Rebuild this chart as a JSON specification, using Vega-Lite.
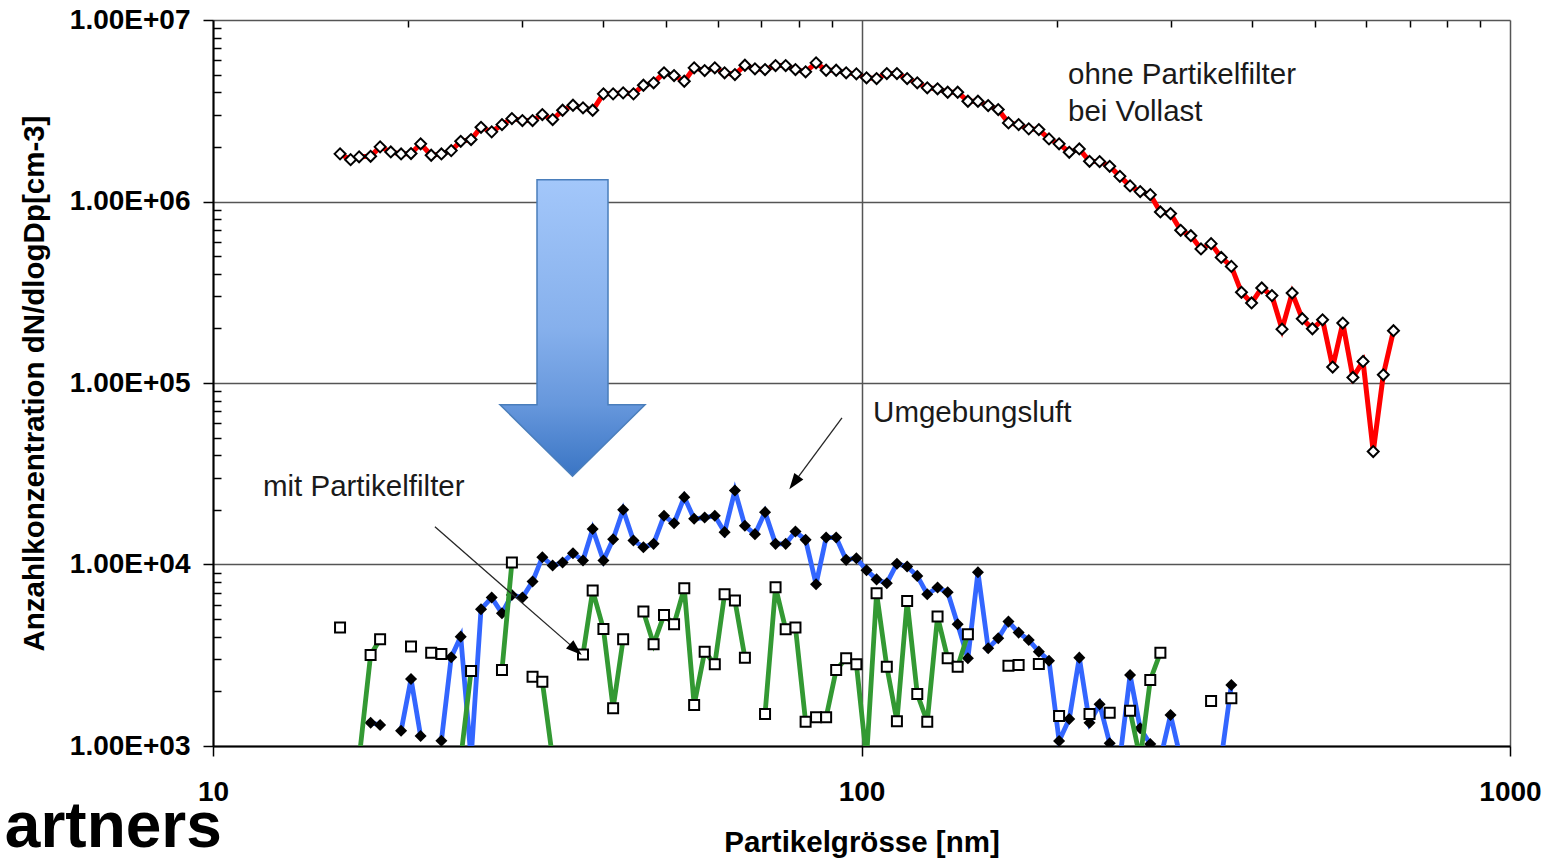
{
  "$schema": "https://vega.github.io/schema/vega-lite/v6.json",
  "width": 1297,
  "height": 726,
  "autosize": "none",
  "padding": {"left": 213, "top": 20, "right": 52, "bottom": 116},
  "background": "white",
  "config": {"view": {"stroke": null}, "font": "Liberation Sans"},
  "datasets": {
    "red": [
      {"x":15.7,"y":1830000},{"x":16.3,"y":1701000},{"x":16.8,"y":1762000},{"x":17.5,"y":1775000},{"x":18.1,"y":2000000},
      {"x":18.8,"y":1876000},{"x":19.5,"y":1829000},{"x":20.2,"y":1837000},{"x":20.9,"y":2078000},{"x":21.7,"y":1798000},
      {"x":22.5,"y":1829000},{"x":23.3,"y":1907000},{"x":24.1,"y":2147000},{"x":25.0,"y":2194000},{"x":25.9,"y":2564000},
      {"x":26.9,"y":2419000},{"x":27.9,"y":2653000},{"x":28.9,"y":2863000},{"x":30.0,"y":2792000},{"x":31.1,"y":2792000},
      {"x":32.2,"y":3013000},{"x":33.4,"y":2828000},{"x":34.6,"y":3182000},{"x":35.9,"y":3391000},{"x":37.2,"y":3281000},
      {"x":38.5,"y":3182000},{"x":40.0,"y":3918000},{"x":41.4,"y":3918000},{"x":42.9,"y":3968000},{"x":44.5,"y":3918000},
      {"x":46.1,"y":4370000},{"x":47.8,"y":4506000},{"x":49.6,"y":5116000},{"x":51.4,"y":4943000},{"x":53.3,"y":4598000},
      {"x":55.2,"y":5450000},{"x":57.3,"y":5266000},{"x":59.4,"y":5450000},{"x":61.5,"y":5116000},{"x":63.8,"y":5006000},
      {"x":66.1,"y":5633000},{"x":68.5,"y":5382000},{"x":71.0,"y":5334000},{"x":73.7,"y":5611000},{"x":76.4,"y":5611000},
      {"x":79.1,"y":5334000},{"x":82.0,"y":5180000},{"x":85.1,"y":5807000},{"x":88.2,"y":5287000},{"x":91.4,"y":5287000},
      {"x":94.7,"y":5116000},{"x":98.2,"y":5051000},{"x":101.8,"y":4801000},{"x":105.5,"y":4759000},{"x":109.4,"y":5070000},
      {"x":113.4,"y":5070000},{"x":117.6,"y":4759000},{"x":121.9,"y":4506000},{"x":126.3,"y":4229000},{"x":131.0,"y":4176000},
      {"x":135.8,"y":3999000},{"x":140.7,"y":3999000},{"x":145.9,"y":3568000},{"x":151.2,"y":3568000},{"x":156.8,"y":3378000},
      {"x":162.5,"y":3211000},{"x":168.5,"y":2711000},{"x":174.7,"y":2653000},{"x":181.1,"y":2513000},{"x":187.7,"y":2490000},
      {"x":194.6,"y":2213000},{"x":201.7,"y":2078000},{"x":209.1,"y":1867000},{"x":216.7,"y":1949000},{"x":224.7,"y":1665000},
      {"x":232.9,"y":1659000},{"x":241.4,"y":1563000},{"x":250.3,"y":1376000},{"x":259.5,"y":1219000},{"x":269.0,"y":1134000},
      {"x":278.8,"y":1091000},{"x":289.0,"y":876000},{"x":299.6,"y":858000},{"x":310.6,"y":694000},{"x":322.0,"y":648000},
      {"x":333.8,"y":548000},{"x":346.0,"y":586000},{"x":358.7,"y":492000},{"x":371.8,"y":439000},{"x":385.4,"y":316000},
      {"x":399.5,"y":276000},{"x":414.2,"y":334000},{"x":429.4,"y":303000},{"x":445.1,"y":198000},{"x":461.4,"y":313000},
      {"x":478.3,"y":226000},{"x":495.8,"y":199000},{"x":514.0,"y":223000},{"x":532.8,"y":122400},{"x":552.3,"y":214000},
      {"x":572.5,"y":107300},{"x":593.5,"y":131500},{"x":615.3,"y":41900},{"x":637.8,"y":111000},{"x":661.2,"y":194200}
    ],
    "blue": [
      {"x":17.5,"y":1344},{"x":18.1,"y":1305},{"x":18.8,"y":null},{"x":19.5,"y":1214},{"x":20.2,"y":2341},
      {"x":20.9,"y":1135},{"x":21.7,"y":null},{"x":22.5,"y":1070},{"x":23.3,"y":3083},{"x":24.1,"y":4005},
      {"x":25.0,"y":850},{"x":25.9,"y":5671},{"x":26.9,"y":6571},{"x":27.9,"y":5390},{"x":28.9,"y":6800},
      {"x":30.0,"y":6571},{"x":31.1,"y":8053},{"x":32.2,"y":10975},{"x":33.4,"y":9865},{"x":34.6,"y":10247},
      {"x":35.9,"y":11545},{"x":37.2,"y":10512},{"x":38.5,"y":15680},{"x":40.0,"y":10512},{"x":41.4,"y":13790},
      {"x":42.9,"y":20010},{"x":44.5,"y":13548},{"x":46.1,"y":12460},{"x":47.8,"y":12992},{"x":49.6,"y":18540},
      {"x":51.4,"y":16898},{"x":53.3,"y":23506},{"x":55.2,"y":17848},{"x":57.3,"y":18142},{"x":59.4,"y":18540},
      {"x":61.5,"y":15077},{"x":63.8,"y":25562},{"x":66.1,"y":16331},{"x":68.5,"y":14700},{"x":71.0,"y":19433},
      {"x":73.7,"y":12992},{"x":76.4,"y":12992},{"x":79.1,"y":15190},{"x":82.0,"y":13670},{"x":85.1,"y":7789},
      {"x":88.2,"y":14076},{"x":91.4,"y":14076},{"x":94.7,"y":10605},{"x":98.2,"y":10837},{"x":101.8,"y":9305},
      {"x":105.5,"y":8279},{"x":109.4,"y":7889},{"x":113.4,"y":10106},{"x":117.6,"y":9741},{"x":121.9,"y":8655},
      {"x":126.3,"y":6861},{"x":131.0,"y":7460},{"x":135.8,"y":7037},{"x":140.7,"y":4688},{"x":145.9,"y":3045},
      {"x":151.2,"y":9072},{"x":156.8,"y":3457},{"x":162.5,"y":3924},{"x":168.5,"y":4845},{"x":174.7,"y":4214},
      {"x":181.1,"y":3840},{"x":187.7,"y":3311},{"x":194.6,"y":2953},{"x":201.7,"y":1066},{"x":209.1,"y":1409},
      {"x":216.7,"y":3068},{"x":224.7,"y":1344},{"x":232.9,"y":1698},{"x":241.4,"y":1035},{"x":250.3,"y":850},
      {"x":259.5,"y":2463},{"x":269.0,"y":1252},{"x":278.8,"y":1026},{"x":289.0,"y":850},{"x":299.6,"y":1482},
      {"x":310.6,"y":850},{"x":322.0,"y":null},{"x":333.8,"y":null},{"x":346.0,"y":null},{"x":358.7,"y":850},
      {"x":371.8,"y":2169}
    ],
    "green": [
      {"x":15.7,"y":4490},{"x":16.3,"y":null},{"x":16.8,"y":850},{"x":17.5,"y":3176},{"x":18.1,"y":3875},
      {"x":18.8,"y":null},{"x":19.5,"y":null},{"x":20.2,"y":3528},{"x":20.9,"y":null},{"x":21.7,"y":3269},
      {"x":22.5,"y":3215},{"x":23.3,"y":null},{"x":24.1,"y":850},{"x":25.0,"y":2591},{"x":25.9,"y":null},
      {"x":26.9,"y":null},{"x":27.9,"y":2624},{"x":28.9,"y":10247},{"x":30.0,"y":null},{"x":31.1,"y":2410},
      {"x":32.2,"y":2262},{"x":33.4,"y":850},{"x":34.6,"y":null},{"x":35.9,"y":null},{"x":37.2,"y":3195},
      {"x":38.5,"y":7179},{"x":40.0,"y":4416},{"x":41.4,"y":1614},{"x":42.9,"y":3875},{"x":44.5,"y":null},
      {"x":46.1,"y":5501},{"x":47.8,"y":3637},{"x":49.6,"y":5276},{"x":51.4,"y":4688},{"x":53.3,"y":7404},
      {"x":55.2,"y":1683},{"x":57.3,"y":3311},{"x":59.4,"y":2821},{"x":61.5,"y":6861},{"x":63.8,"y":6326},
      {"x":66.1,"y":3068},{"x":68.5,"y":null},{"x":71.0,"y":1501},{"x":73.7,"y":7499},{"x":76.4,"y":4399},
      {"x":79.1,"y":4490},{"x":82.0,"y":1361},{"x":85.1,"y":1439},{"x":88.2,"y":1439},{"x":91.4,"y":2624},
      {"x":94.7,"y":3045},{"x":98.2,"y":2821},{"x":101.8,"y":850},{"x":105.5,"y":6948},{"x":109.4,"y":2736},
      {"x":113.4,"y":1370},{"x":117.6,"y":6302},{"x":121.9,"y":1935},{"x":126.3,"y":1361},{"x":131.0,"y":5163},
      {"x":135.8,"y":3045},{"x":140.7,"y":2736},{"x":145.9,"y":4129},{"x":151.2,"y":null},{"x":156.8,"y":null},
      {"x":162.5,"y":null},{"x":168.5,"y":2771},{"x":174.7,"y":2796},{"x":181.1,"y":null},{"x":187.7,"y":2832},
      {"x":194.6,"y":null},{"x":201.7,"y":1463},{"x":209.1,"y":null},{"x":216.7,"y":null},{"x":224.7,"y":1501},
      {"x":232.9,"y":null},{"x":241.4,"y":1526},{"x":250.3,"y":null},{"x":259.5,"y":1565},{"x":269.0,"y":850},
      {"x":278.8,"y":2311},{"x":289.0,"y":3269},{"x":299.6,"y":null},{"x":310.6,"y":null},{"x":322.0,"y":null},
      {"x":333.8,"y":null},{"x":346.0,"y":1771},{"x":358.7,"y":null},{"x":371.8,"y":1832}
    ],
    "labels": [
      {"x":208.2,"y":4439000,"t":"ohne Partikelfilter"},
      {"x":208.2,"y":2792000,"t":"bei Vollast"},
      {"x":104.2,"y":60600,"t":"Umgebungsluft"},
      {"x":11.94,"y":23890,"t":"mit Partikelfilter"}
    ],
    "pointers": [
      {"x":93.3,"y":64320,"xe":78.71,"ye":28220},
      {"x":21.99,"y":16123,"xe":36.25,"ye":3396}
    ]
  },
  "encoding": {
    "x": {
      "field": "x", "type": "quantitative",
      "scale": {"type": "log", "domain": [10, 1000], "nice": false},
      "axis": {
        "values": [10,20,30,40,50,60,70,80,90,100,200,300,400,500,600,700,800,900,1000],
        "grid": true,
        "gridColor": {"condition": {"test": "indexof([10,100,1000], datum.value) >= 0", "value": "#555555"}, "value": "black"},
        "gridWidth": 1.5,
        "gridDash": {"condition": {"test": "indexof([10,100,1000], datum.value) >= 0", "value": []}, "value": [7, 3000]},
        "tickSize": 10,
        "tickOpacity": {"condition": {"test": "indexof([10,100,1000], datum.value) >= 0", "value": 1}, "value": 0},
        "tickColor": "black", "tickWidth": 1.5,
        "domainColor": "black", "domainWidth": 2,
        "labelExpr": "indexof([10,100,1000], datum.value) >= 0 ? format(datum.value, 'd') : ''",
        "labelFont": "Liberation Sans", "labelFontSize": 28, "labelFontWeight": "bold", "labelColor": "black",
        "labelPadding": 22, "labelFlush": false, "labelOverlap": false,
        "title": "Partikelgrösse [nm]", "titleFont": "Liberation Sans", "titleFontSize": 29.5,
        "titleFontWeight": "bold", "titleColor": "black", "titlePadding": 22
      }
    },
    "y": {
      "field": "y", "type": "quantitative",
      "scale": {"type": "log", "domain": [1000, 10000000], "nice": false},
      "axis": {
        "values": [1000,2000,3000,4000,5000,6000,7000,8000,9000,10000,20000,30000,40000,50000,60000,70000,80000,90000,100000,200000,300000,400000,500000,600000,700000,800000,900000,1000000,2000000,3000000,4000000,5000000,6000000,7000000,8000000,9000000,10000000],
        "grid": true,
        "gridColor": {"condition": {"test": "indexof([1000,10000,100000,1000000,10000000], datum.value) >= 0", "value": "#555555"}, "value": "black"},
        "gridWidth": 1.5,
        "gridDash": {"condition": {"test": "indexof([1000,10000,100000,1000000,10000000], datum.value) >= 0", "value": []}, "value": [8, 3000]},
        "tickSize": 10,
        "tickOpacity": {"condition": {"test": "indexof([1000,10000,100000,1000000,10000000], datum.value) >= 0", "value": 1}, "value": 0},
        "tickColor": "black", "tickWidth": 1.5,
        "domainColor": "black", "domainWidth": 2,
        "labelExpr": "indexof([1000,10000,100000,1000000,10000000], datum.value) >= 0 ? '1.00E+0' + round(log(datum.value) / LN10) : ''",
        "labelFont": "Liberation Sans", "labelFontSize": 28, "labelFontWeight": "bold", "labelColor": "black",
        "labelPadding": 13, "labelOverlap": false,
        "title": "Anzahlkonzentration dN/dlogDp[cm-3]", "titleFont": "Liberation Sans", "titleFontSize": 29.5,
        "titleFontWeight": "bold", "titleColor": "black", "titlePadding": 20
      }
    }
  },
  "layer": [
    {
      "data": {"values": [{"x": 35.84, "y": 201030}]},
      "mark": {
        "type": "point",
        "shape": "M-0.2395,-1L0.2395,-1L0.2395,0.5177L0.489,0.5177L0,1L-0.489,0.5177L-0.2395,0.5177Z",
        "size": 87912, "filled": true, "opacity": 1, "stroke": "#4a7ebb", "strokeWidth": 1.5,
        "fill": {"gradient": "linear", "x1": 0, "y1": 0, "x2": 0, "y2": 1,
          "stops": [{"offset": 0, "color": "#a3c7fa"}, {"offset": 0.5, "color": "#86b0ec"}, {"offset": 0.76, "color": "#6697dc"}, {"offset": 1, "color": "#3a75c4"}]}
      },
      "encoding": {}
    },
    {"data": {"name": "red"}, "mark": {"type": "line", "color": "#ff0000", "strokeWidth": 5, "clip": true}},
    {"data": {"name": "red"}, "mark": {"type": "point", "shape": "diamond", "filled": true, "fill": "white", "stroke": "black", "strokeWidth": 2, "size": 120, "opacity": 1, "clip": true}},
    {"data": {"name": "blue"}, "mark": {"type": "line", "color": "#3366ff", "strokeWidth": 4.8, "clip": true}},
    {"data": {"name": "blue"}, "mark": {"type": "point", "shape": "diamond", "filled": true, "fill": "black", "size": 145, "opacity": 1, "clip": true}},
    {"data": {"name": "green"}, "mark": {"type": "line", "color": "#339933", "strokeWidth": 4.8, "clip": true}},
    {"data": {"name": "green"}, "mark": {"type": "point", "shape": "square", "filled": true, "fill": "white", "stroke": "black", "strokeWidth": 2, "size": 100, "opacity": 1, "clip": true}},
    {
      "data": {"name": "labels"},
      "mark": {"type": "text", "align": "left", "baseline": "alphabetic", "font": "Liberation Sans", "fontSize": 29.5, "color": "#1a1a1a"},
      "encoding": {"text": {"field": "t"}}
    },
    {
      "data": {"name": "pointers"},
      "mark": {"type": "rule", "color": "#262626", "strokeWidth": 1.3},
      "encoding": {"x2": {"field": "xe"}, "y2": {"field": "ye"}}
    },
    {
      "data": {"values": [{"x": 78.71, "y": 28220}]},
      "mark": {"type": "point", "shape": "M0,-1L0.7,1L-0.7,1Z", "filled": true, "color": "black", "opacity": 1, "size": 256, "angle": 216.5},
      "encoding": {}
    },
    {
      "data": {"values": [{"x": 36.25, "y": 3396}]},
      "mark": {"type": "point", "shape": "M0,-1L0.7,1L-0.7,1Z", "filled": true, "color": "black", "opacity": 1, "size": 256, "angle": 131.1},
      "encoding": {}
    },
    {
      "data": {"values": [{"x": 10.32, "y": 277.4, "t": "artners"}]},
      "mark": {"type": "text", "align": "right", "baseline": "alphabetic", "font": "Liberation Sans", "fontSize": 64, "fontWeight": "bold", "color": "black", "clip": false},
      "encoding": {"text": {"field": "t"}}
    }
  ]
}
